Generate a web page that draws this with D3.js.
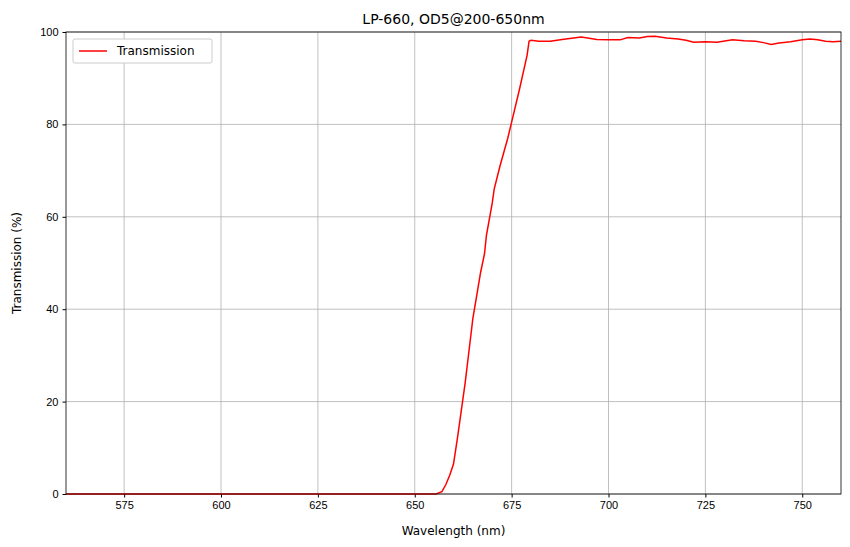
<!DOCTYPE html>
<html><head><meta charset="utf-8">
<script src="https://cdn.jsdelivr.net/npm/d3@7"></script>
<style>
body{margin:0;background:#fff;font-family:"DejaVu Sans",sans-serif;}
.grid line{stroke:#b0b0b0;stroke-width:0.8;}
.axis text{font-size:11px;fill:#000;}
</style></head><body>
<svg width="850" height="547"></svg>
<script>
// wavelength (nm) and transmission (%)
var wavelength = [560,600,650,655.5,657,658,659,660,661,662,663,664,665,666,667,668,668.5,670,670.5,672,674,675,677,679,679.5,680,682,685,688,690,693,697,700,703,705,708,710,712,715,718,720,722,725,728,732,735,738,740,742,744,747,750,752,754,756,758,760];
var transmission = [0,0,0,0,0.5,2,4,6.5,12,18,24,31,38,43,48,52,56,63,66,71,77,80.5,87.5,95,98,98.2,98,98,98.4,98.6,98.9,98.4,98.3,98.3,98.8,98.7,99,99.1,98.7,98.5,98.2,97.8,97.9,97.8,98.3,98.1,98,97.7,97.3,97.6,97.9,98.3,98.5,98.3,98,97.9,98];
var xTicks = [575,600,625,650,675,700,725,750];
var yTicks = [0,20,40,60,80,100];

var svg = d3.select("svg");
var margin = {top:32, right:9, bottom:53, left:66};
var width = 850 - margin.left - margin.right,
    height = 547 - margin.top - margin.bottom;
var g = svg.append("g").attr("transform","translate("+margin.left+","+margin.top+")");

var x = d3.scaleLinear().domain([560,760]).range([0,width]);
var y = d3.scaleLinear().domain([0,100]).range([height,0]);

g.append("g").attr("class","grid").selectAll("line").data(xTicks).enter().append("line")
  .attr("x1",x).attr("x2",x).attr("y1",0).attr("y2",height);
g.append("g").attr("class","grid").selectAll("line").data(yTicks).enter().append("line")
  .attr("y1",y).attr("y2",y).attr("x1",0).attr("x2",width);

g.append("g").attr("class","axis").attr("transform","translate(0,"+height+")")
  .call(d3.axisBottom(x).tickValues(xTicks).tickSize(3.5).tickPadding(4)).select(".domain").remove();
g.append("g").attr("class","axis")
  .call(d3.axisLeft(y).tickValues(yTicks).tickSize(3.5).tickPadding(4)).select(".domain").remove();

var data = wavelength.map(function(d,i){return [d, transmission[i]];});
g.append("path").datum(data).attr("fill","none").attr("stroke","red").attr("stroke-width",1.5)
  .attr("d", d3.line().x(function(d){return x(d[0]);}).y(function(d){return y(d[1]);}));

g.append("rect").attr("width",width).attr("height",height).attr("fill","none").attr("stroke","#000").attr("stroke-width",0.8);

svg.append("text").attr("x",margin.left+width/2).attr("y",24).attr("text-anchor","middle").attr("font-size","14px").text("LP-660, OD5@200-650nm");
svg.append("text").attr("x",margin.left+width/2).attr("y",535).attr("text-anchor","middle").attr("font-size","12px").text("Wavelength (nm)");
svg.append("text").attr("transform","translate(21,"+(margin.top+height/2)+") rotate(-90)").attr("text-anchor","middle").attr("font-size","12px").text("Transmission (%)");

var lg = g.append("g").attr("transform","translate(7,7)");
lg.append("rect").attr("width",139).attr("height",24).attr("rx",2).attr("fill","#fff").attr("stroke","#ccc");
lg.append("line").attr("x1",6).attr("x2",34).attr("y1",12).attr("y2",12).attr("stroke","red").attr("stroke-width",1.5);
lg.append("text").attr("x",44).attr("y",16).attr("font-size","12px").text("Transmission");
</script></body></html>
